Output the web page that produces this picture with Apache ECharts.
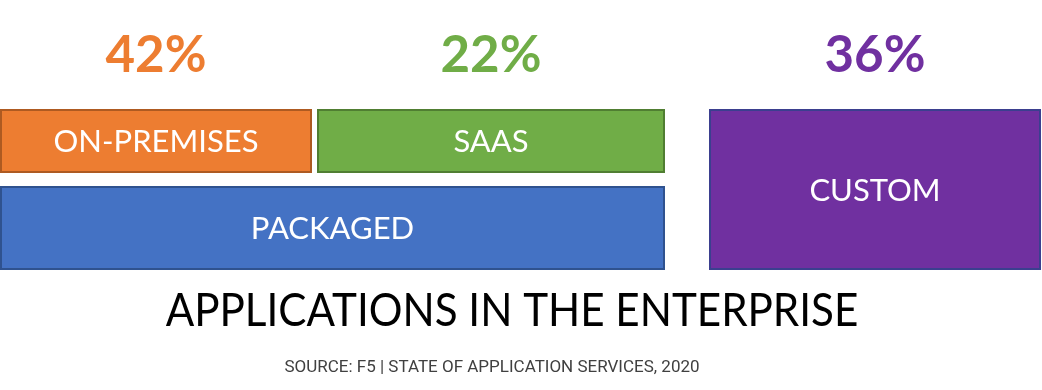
<!DOCTYPE html>
<html><head><meta charset="utf-8">
<script src="https://cdn.jsdelivr.net/npm/echarts@6/dist/echarts.min.js"></script>
<style>html,body{margin:0;padding:0;background:#fff}#c{width:1042px;height:390px}</style>
</head><body><div id="c"></div>
<script>
// Data
var categories = ['ON-PREMISES', 'SAAS', 'PACKAGED', 'CUSTOM'];
var shares = [42, 22, null, 36];               // percent shown above box (PACKAGED has none)
var fills = ['#ED7D31', '#70AD47', '#4472C4', '#7030A0'];
var borders = ['#AE5A21', '#507E32', '#2F528F', '#3B3F8F'];
var pctColors = ['#ED7D31', '#70AD47', null, '#7030A0'];
var titleText = 'APPLICATIONS IN THE ENTERPRISE';
var sourceText = 'SOURCE: F5 | STATE OF APPLICATION SERVICES, 2020';
// Layout (box extents in layout units)
var spanStart = [1, 318, 1, 710];
var spanEnd = [311, 664, 664, 1040];
var rowTop = [110, 110, 187, 110];
var rowBottom = [172, 172, 269, 269];

var data = categories.map(function (c, i) {
  return [spanStart[i], spanEnd[i], rowTop[i], rowBottom[i], i];
});

var chart = echarts.init(document.getElementById('c'));
chart.setOption({
  animation: false,
  backgroundColor: '#fff',
  graphic: [
    { type: 'text', x: 512, y: 310.5, scaleX: 0.897,
      style: { text: titleText, align: 'center', verticalAlign: 'middle',
        fontFamily: 'Lato', fontSize: 47, fill: '#000' } },
    { type: 'text', x: 492, y: 368,
      style: { text: sourceText, align: 'center', verticalAlign: 'middle',
        fontFamily: 'Roboto', fontSize: 17, fill: '#404040' } }
  ],
  grid: { left: 0, right: 0, top: 0, bottom: 0 },
  xAxis: { type: 'value', min: 0, max: 1042, show: false },
  yAxis: { type: 'value', min: 0, max: 390, inverse: true, show: false },
  series: [{
    type: 'custom',
    data: data,
    renderItem: function (params, api) {
      var i = api.value(4);
      var p0 = api.coord([api.value(0), api.value(2)]);
      var p1 = api.coord([api.value(1), api.value(3)]);
      var children = [{
        type: 'rect',
        shape: { x: p0[0], y: p0[1], width: p1[0] - p0[0], height: p1[1] - p0[1] },
        style: { fill: fills[i], stroke: borders[i], lineWidth: 2 }
      }, {
        type: 'text',
        style: {
          x: (p0[0] + p1[0]) / 2, y: (p0[1] + p1[1]) / 2 + 1,
          text: categories[i], fill: '#fff', fontFamily: 'Lato', fontSize: 31,
          align: 'center', verticalAlign: 'middle'
        }
      }];
      if (shares[i] != null) {
        children.push({
          type: 'text',
          style: {
            x: (p0[0] + p1[0]) / 2, y: api.coord([0, 56])[1],
            text: shares[i] + '%', fill: pctColors[i], fontFamily: 'Lato', fontWeight: 'bold', fontSize: 51,
            align: 'center', verticalAlign: 'middle'
          }
        });
      }
      return { type: 'group', children: children };
    }
  }]
});
</script></body></html>
